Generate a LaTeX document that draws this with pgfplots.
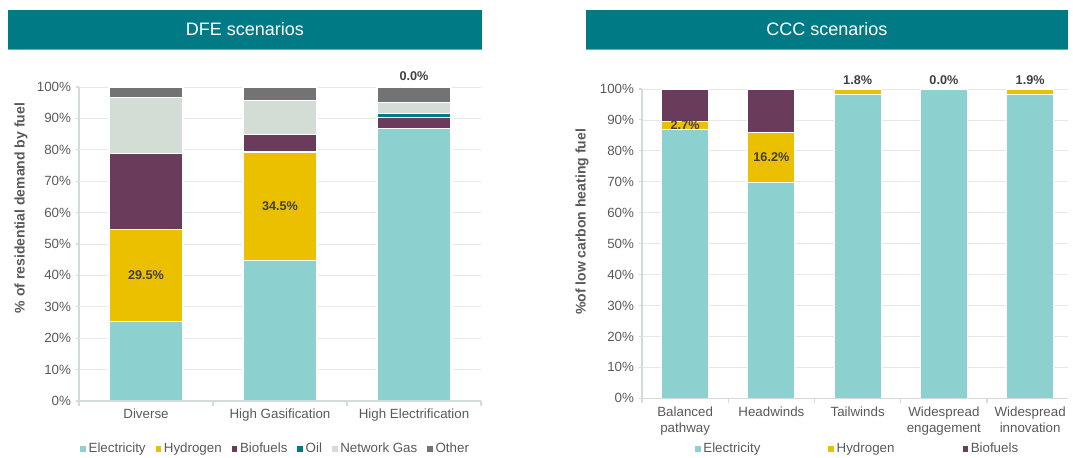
\documentclass[border=0pt]{standalone}
\usepackage{fontspec}
\setmainfont{Liberation Sans}
\usepackage{pgfplots}
\pgfplotsset{compat=1.18}
\definecolor{elec}{HTML}{8DD0D0}
\definecolor{hyd}{HTML}{EBC000}
\definecolor{bio}{HTML}{6A3B5A}
\definecolor{oil}{HTML}{007A87}
\definecolor{ngas}{HTML}{D3DDD5}
\definecolor{other}{HTML}{737275}
\definecolor{banner}{HTML}{007B86}
\definecolor{tickc}{HTML}{595959}
\definecolor{gridc}{HTML}{E6E8E7}
\definecolor{axisc}{HTML}{D3DCD6}
\definecolor{lblc}{HTML}{404040}
\tikzset{lbl/.style={font=\fontsize{9.5}{11}\selectfont\bfseries, text=lblc, inner sep=0pt}}
\pgfplotsset{
  common/.style={
    scale only axis,
    anchor=south west,
    ybar stacked,
    ymin=0, ymax=100,
    enlargelimits=false,
    ytick={0,10,...,100},
    yticklabel={\pgfmathprintnumber{\tick}\%},
    /pgf/number format/assume math mode=true,
    axis x line*=bottom, axis y line*=left,
    ymajorgrids,
    grid style={color=gridc, line width=0.6pt},
    axis line style={color=axisc, line width=0.8pt},
    tick style={color=axisc, line width=0.8pt},
    major x tick style={draw=none},
    tick align=outside,
    major tick length=2.5pt,
    minor tick length=3.5pt,
    ticklabel style={font=\fontsize{10}{12}\selectfont, text=tickc},
    clip=false,
    legend columns=-1,
    legend image code/.code={\fill[##1,draw=none] (0pt,-2.1pt) rectangle (4.2pt,2.1pt);},
    legend style={draw=none, fill=none, anchor=center,
      font=\fontsize{10}{12}\selectfont, text=tickc,
      inner sep=0pt,
      nodes={inner xsep=2pt, inner ysep=1pt}},
    legend cell align=left,
  },
}
\begin{document}
\begin{tikzpicture}
\path[use as bounding box] (0,0) rectangle (804.75pt,342.75pt);
% banners
\fill[banner] (6pt,306pt) rectangle (361.5pt,335.25pt);
\draw[banner!60!white, line width=0.6pt] (6pt,306pt) -- (361.5pt,306pt);
\node[white, font=\fontsize{13.5}{16}\selectfont] at (183.75pt,320.6pt) {DFE scenarios};
\fill[banner] (439.5pt,306pt) rectangle (801pt,335.25pt);
\draw[banner!60!white, line width=0.6pt] (439.5pt,306pt) -- (801pt,306pt);
\node[white, font=\fontsize{13.5}{16}\selectfont] at (620.25pt,320.6pt) {CCC scenarios};

% left chart
\begin{axis}[common,
  at={(59.25pt,42pt)},
  width=301.5pt, height=235.5pt,
  xmin=-0.5, xmax=2.5,
  bar width=55.5pt,
  xtick={0,1,2},
  xticklabels={Diverse,High Gasification,High Electrification},
  minor xtick={-0.5,0.5,1.5,2.5},
  legend style={at={(0.49,-0.153)}, /tikz/every even column/.append style={column sep=5.5pt}},
]
\addplot[fill=elec, draw=white, line width=0.8pt] coordinates {(0,25.2) (1,44.8) (2,86.8)};
\addplot[fill=hyd, draw=white, line width=0.8pt] coordinates {(0,29.5) (1,34.5) (2,0.0)};
\addplot[fill=bio, draw=white, line width=0.8pt] coordinates {(0,24.0) (1,5.7) (2,3.4)};
\addplot[fill=oil, draw=white, line width=0.8pt] coordinates {(0,0.0) (1,0.0) (2,1.4)};
\addplot[fill=ngas, draw=white, line width=0.8pt] coordinates {(0,17.9) (1,10.6) (2,3.4)};
\addplot[fill=other, draw=white, line width=0.8pt] coordinates {(0,3.4) (1,4.4) (2,5.0)};
\legend{Electricity,Hydrogen,Biofuels,Oil,Network Gas,Other}
\coordinate (a1) at (axis cs:0,39.95);
\coordinate (a2) at (axis cs:1,62.05);
\coordinate (a3) at (axis cs:2,100);
\coordinate (al) at (axis cs:-0.5,0);
\coordinate (ar) at (axis cs:2.5,0);
\end{axis}

% right chart
\begin{axis}[common,
  at={(481.5pt,44pt)},
  width=319.5pt, height=232pt,
  xmin=-0.5, xmax=4.439,
  bar width=35.25pt,
  xtick={0,1,2,3,4},
  xticklabels={{Balanced\\pathway},Headwinds,Tailwinds,{Widespread\\engagement},{Widespread\\innovation}},
  xticklabel style={align=center},
  minor xtick={-0.5,0.5,1.5,2.5,3.5},
  legend style={at={(0.507,-0.164)}, /tikz/every even column/.append style={column sep=49pt}},
]
\addplot[fill=elec, draw=white, line width=0.8pt] coordinates {(0,86.9) (1,69.8) (2,98.2) (3,100) (4,98.1)};
\addplot[fill=hyd, draw=white, line width=0.8pt] coordinates {(0,2.7) (1,16.2) (2,1.8) (3,0.0) (4,1.9)};
\addplot[fill=bio, draw=white, line width=0.8pt] coordinates {(0,10.4) (1,14.0) (2,0) (3,0) (4,0)};
\legend{Electricity,Hydrogen,Biofuels}
\coordinate (b1) at (axis cs:0,88.25);
\coordinate (b2) at (axis cs:1,77.9);
\coordinate (b3) at (axis cs:2,100);
\coordinate (b4) at (axis cs:3,100);
\coordinate (b5) at (axis cs:4,100);
\coordinate (bl) at (axis cs:-0.5,0);
\coordinate (br) at (axis cs:4.439,0);
\end{axis}

% bottom axis lines over the bars
\draw[axisc, line width=0.8pt] (al) -- (ar);
\draw[axisc, line width=0.8pt] (bl) -- (br);

% data labels
\node[lbl] at (a1) {29.5\%};
\node[lbl] at (a2) {34.5\%};
\node[lbl, anchor=south] at ([yshift=4.5pt]a3) {0.0\%};
\node[lbl] at (b1) {2.7\%};
\node[lbl] at (b2) {16.2\%};
\node[lbl, anchor=south] at ([yshift=3.4pt]b3) {1.8\%};
\node[lbl, anchor=south] at ([yshift=3.4pt]b4) {0.0\%};
\node[lbl, anchor=south] at ([yshift=3.4pt]b5) {1.9\%};

% y labels
\node[rotate=90, font=\fontsize{10.5}{12}\selectfont\bfseries, text=tickc] at (15.75pt,186.75pt) {\% of residential demand by fuel};
\node[rotate=90, font=\fontsize{10.5}{12}\selectfont\bfseries, text=tickc] at (436.5pt,176.25pt) {\%of low carbon heating fuel};
\end{tikzpicture}
\end{document}
